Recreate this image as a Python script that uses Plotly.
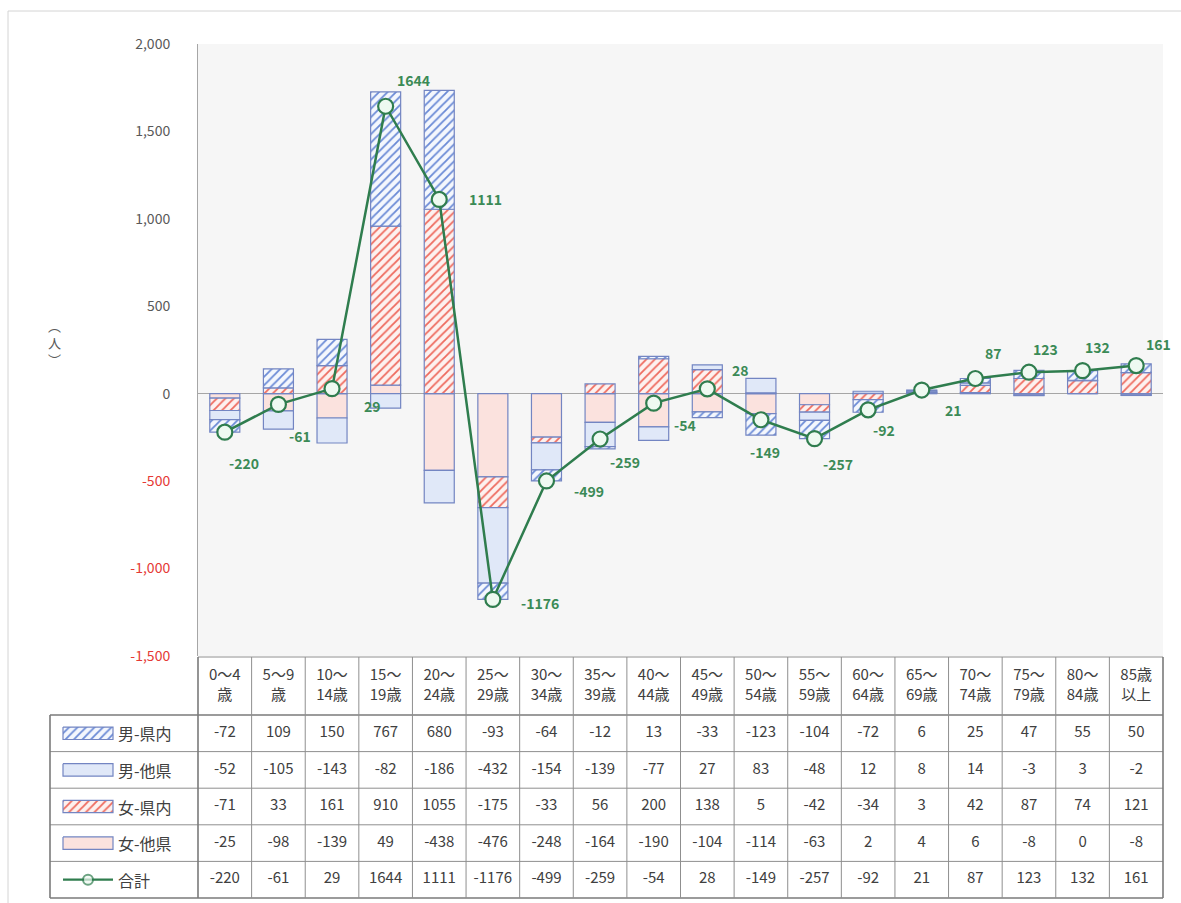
import plotly.graph_objects as go

# ---------------- data ----------------
categories = ["0～4歳", "5～9歳", "10～14歳", "15～19歳", "20～24歳", "25～29歳",
              "30～34歳", "35～39歳", "40～44歳", "45～49歳", "50～54歳", "55～59歳",
              "60～64歳", "65～69歳", "70～74歳", "75～79歳", "80～84歳", "85歳以上"]
header_labels = ["0～4<br>歳", "5～9<br>歳", "10～<br>14歳", "15～<br>19歳", "20～<br>24歳",
                 "25～<br>29歳", "30～<br>34歳", "35～<br>39歳", "40～<br>44歳", "45～<br>49歳",
                 "50～<br>54歳", "55～<br>59歳", "60～<br>64歳", "65～<br>69歳", "70～<br>74歳",
                 "75～<br>79歳", "80～<br>84歳", "85歳<br>以上"]
male_in = [-72, 109, 150, 767, 680, -93, -64, -12, 13, -33, -123, -104, -72, 6, 25, 47, 55, 50]
male_out = [-52, -105, -143, -82, -186, -432, -154, -139, -77, 27, 83, -48, 12, 8, 14, -3, 3, -2]
female_in = [-71, 33, 161, 910, 1055, -175, -33, 56, 200, 138, 5, -42, -34, 3, 42, 87, 74, 121]
female_out = [-25, -98, -139, 49, -438, -476, -248, -164, -190, -104, -114, -63, 2, 4, 6, -8, 0, -8]
total = [-220, -61, 29, 1644, 1111, -1176, -499, -259, -54, 28, -149, -257, -92, 21, 87, 123, 132, 161]
series_names = ["男-県内", "男-他県", "女-県内", "女-他県", "合計"]
y_ticks = [-1500, -1000, -500, 0, 500, 1000, 1500, 2000]
axis_title = "︵<br>人<br>︶"

# ---------------- styles ----------------
W, H = 1181, 903
FONT = "Noto Sans CJK JP"
GREEN = "#2f7d4e"
BORDER = "#7385c2"
# data-label offsets (px, right / down) from each marker
label_offsets = [(19, 31), (22, 32), (40, 17), (28, -26), (46, 0), (47, 4), (43, 10),
                 (25, 23), (31, 22), (33, -19), (4, 32), (23, 25), (16, 20), (32, 20),
                 (18, -26), (17, -23), (15, -24), (22, -22)]

styles = {
    "男-県内": dict(fg="#6a8ad6", bg="#f4f7fd", hatch=True),
    "男-他県": dict(fg="#e0e8f8", bg="#e0e8f8", hatch=False),
    "女-県内": dict(fg="#ee6a5e", bg="#fdf1ef", hatch=True),
    "女-他県": dict(fg="#fbe2de", bg="#fbe2de", hatch=False),
}

# plot area / table geometry (pixels)
plot_left, plot_right, plot_top, plot_bottom = 198, 1163, 44, 656
table_left, table_top, table_bottom = 50, 657, 898
header_h, row_h = 58, 36.6
ncat = len(categories)
col_px = (plot_right - plot_left) / ncat


def px2x(px):
    return -0.5 + (px - plot_left) / col_px


def py2y(py):
    return (py - table_top) / row_h


hb = header_h / row_h            # header bottom in table-row units
y_bottom = hb + 5

fig = go.Figure()

series_vals = {"男-県内": male_in, "男-他県": male_out, "女-県内": female_in, "女-他県": female_out}

# stacking order (first trace closest to zero)
for name in ["女-他県", "女-県内", "男-他県", "男-県内"]:
    st = styles[name]
    marker = dict(color=st["fg"], line=dict(color=BORDER, width=1.2))
    if st["hatch"]:
        marker["pattern"] = dict(shape="/", fgcolor=st["fg"], bgcolor=st["bg"],
                                 size=6, solidity=0.3, fillmode="replace")
    fig.add_trace(go.Bar(x=categories, y=series_vals[name], name=name, width=0.56,
                         marker=marker, showlegend=False))

fig.add_trace(go.Scatter(
    x=categories, y=total, name="合計", mode="lines+markers",
    line=dict(color=GREEN, width=2.5),
    marker=dict(size=15, color="#eef9f1", line=dict(color=GREEN, width=2.2)),
    cliponaxis=False, showlegend=False))

for cat, v, (dx, dy) in zip(categories, total, label_offsets):
    fig.add_annotation(x=cat, y=v, xref="x", yref="y", text=str(v), showarrow=False,
                       xshift=dx, yshift=-dy,
                       font=dict(family=FONT, size=14, color="#3b8a56", weight="bold"))

# ---------------- table (x2 / y2 subplot) ----------------
fig.add_trace(go.Scatter(
    x=list(range(ncat)), y=[hb / 2] * ncat, mode="text", text=header_labels,
    textfont=dict(family=FONT, size=15, color="#404040"),
    xaxis="x2", yaxis="y2", showlegend=False, hoverinfo="skip"))

rows = [male_in, male_out, female_in, female_out, total]
for r, vals in enumerate(rows):
    fig.add_trace(go.Scatter(
        x=list(range(ncat)), y=[hb + r + 0.5] * ncat, mode="text",
        text=[str(v) for v in vals],
        textfont=dict(family=FONT, size=15, color="#404040"),
        xaxis="x2", yaxis="y2", showlegend=False, hoverinfo="skip"))

# first column: swatches + labels
sw_x0, sw_x1 = px2x(table_left + 13), px2x(table_left + 63)
lab_x = px2x(table_left + 66)
for r, name in enumerate(series_names):
    yc = hb + r + 0.5
    if name in styles:
        st = styles[name]
        y0, y1 = yc - 0.17, yc + 0.17
        kw = dict(fillcolor=st["bg"])
        if st["hatch"]:
            kw["fillpattern"] = dict(shape="/", fgcolor=st["fg"], bgcolor=st["bg"],
                                     size=6, solidity=0.3, fillmode="replace")
        fig.add_trace(go.Scatter(
            x=[sw_x0, sw_x1, sw_x1, sw_x0, sw_x0], y=[y0, y0, y1, y1, y0],
            mode="lines", fill="toself", line=dict(color=BORDER, width=1.2),
            xaxis="x2", yaxis="y2", showlegend=False, hoverinfo="skip", **kw))
    else:
        fig.add_trace(go.Scatter(
            x=[sw_x0, (sw_x0 + sw_x1) / 2, sw_x1], y=[yc, yc, yc], mode="lines+markers",
            line=dict(color=GREEN, width=2.2),
            marker=dict(size=[0, 10, 0], color="#eef9f1", line=dict(color=GREEN, width=2)),
            xaxis="x2", yaxis="y2", showlegend=False, hoverinfo="skip"))
    fig.add_annotation(x=lab_x, y=yc, xref="x2", yref="y2", text=name, showarrow=False,
                       xanchor="left", font=dict(family=FONT, size=16, color="#404040"))

# table grid lines
LINE = "#8f8f8f"
x_first = px2x(table_left)
shapes = []
# main plot-area background
shapes.append(dict(type="rect", xref="x domain", yref="y domain", x0=0, x1=1, y0=0, y1=1,
                   fillcolor="#f6f6f6", line=dict(width=0), layer="below"))
shapes.append(dict(type="line", xref="x2", yref="y2", x0=-0.5, x1=ncat - 0.5, y0=0, y1=0,
                   line=dict(color=LINE, width=1)))
for k in range(6):
    yk = hb + k
    shapes.append(dict(type="line", xref="x2", yref="y2", x0=x_first, x1=ncat - 0.5,
                       y0=yk, y1=yk, line=dict(color="#7a7a7a" if k in (0, 5) else LINE,
                                                width=1.6 if k in (0, 5) else 1)))
shapes.append(dict(type="line", xref="x2", yref="y2", x0=x_first, x1=x_first, y0=hb, y1=y_bottom,
                   line=dict(color="#7a7a7a", width=1.6)))
for i in range(ncat + 1):
    shapes.append(dict(type="line", xref="x2", yref="y2", x0=i - 0.5, x1=i - 0.5,
                       y0=0, y1=y_bottom,
                       line=dict(color="#7a7a7a" if i in (0, ncat) else LINE,
                                 width=1.6 if i in (0, ncat) else 1)))
# outer chart border
shapes.append(dict(type="rect", xref="paper", yref="paper", x0=8 / W, x1=1.02, y0=-0.02,
                   y1=1 - 11 / H, line=dict(color="#d4d4d4", width=1), layer="below"))

fig.update_layout(shapes=shapes)

fig.add_annotation(x=46 / W, y=1 - 342 / H, xref="paper", yref="paper", text=axis_title,
                   showarrow=False, font=dict(family=FONT, size=13, color="#595959"))

tick_text = []
for v in y_ticks:
    color = "#e53935" if v < 0 else "#595959"
    tick_text.append(f'<span style="color:{color}">{v:,}</span>')

fig.update_layout(
    width=W, height=H, margin=dict(l=0, r=0, t=0, b=0, autoexpand=False),
    paper_bgcolor="#ffffff", plot_bgcolor="rgba(0,0,0,0)",
    barmode="relative", bargap=0.44,
    font=dict(family=FONT, color="#595959"),
    xaxis=dict(domain=[plot_left / W, plot_right / W], range=[-0.5, ncat - 0.5],
               showticklabels=False, ticks="", showgrid=False, zeroline=False,
               showline=False, fixedrange=True),
    yaxis=dict(domain=[1 - plot_bottom / H, 1 - plot_top / H], range=[-1500, 2000],
               tickvals=y_ticks, ticktext=tick_text, ticks="", ticklabelstandoff=24,
               tickfont=dict(family=FONT, size=14, color="#595959"),
               showgrid=False, zeroline=True, zerolinecolor="#a6a6a6", zerolinewidth=1,
               showline=True, linecolor="#a6a6a6", linewidth=1, fixedrange=True),
    xaxis2=dict(domain=[(table_left - 2) / W, (plot_right + 2) / W],
                range=[px2x(table_left - 2), px2x(plot_right + 2)],
                visible=False, fixedrange=True, anchor="y2"),
    yaxis2=dict(domain=[1 - (table_bottom + 3) / H, 1 - (table_top - 2) / H],
                range=[py2y(table_bottom + 3), py2y(table_top - 2)],
                visible=False, fixedrange=True, anchor="x2"),
)

page_fix = ("document.body.style.margin='0';document.body.style.overflow='hidden';"
            "var d=document.getElementById('{plot_id}');"
            "d.style.position='absolute';d.style.left='0px';d.style.top='0px';")
fig.write_html("out.html", post_script=page_fix, config={"displayModeBar": False})
